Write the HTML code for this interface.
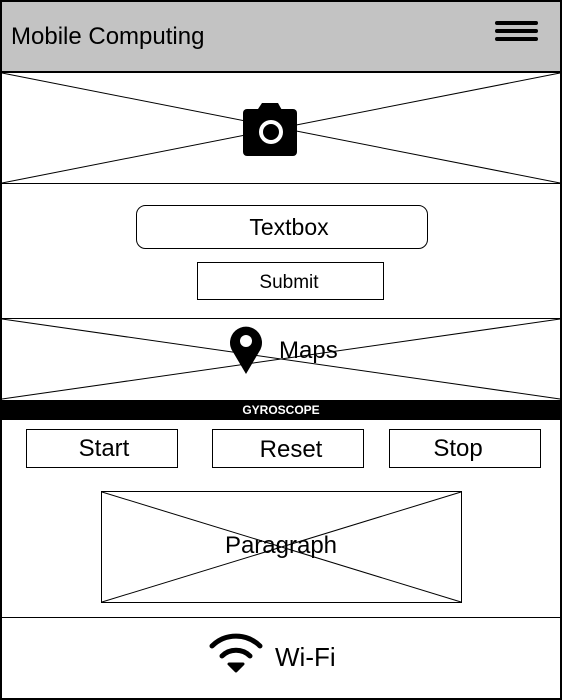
<!DOCTYPE html>
<html><head><meta charset="utf-8"><style>
html,body{margin:0;padding:0;background:#fff}
svg{display:block}
text{font-family:"Liberation Sans",sans-serif}
</style></head><body>
<svg width="562" height="700" viewBox="0 0 562 700" xmlns="http://www.w3.org/2000/svg">
<rect x="0" y="0" width="562" height="71" fill="#c3c3c3"/>
<text x="11" y="44" font-size="24" fill="#000">Mobile Computing</text>
<g stroke="#000" stroke-width="4" stroke-linecap="round">
<line x1="497" y1="23" x2="536" y2="23"/><line x1="497" y1="31" x2="536" y2="31"/><line x1="497" y1="39" x2="536" y2="39"/>
</g>
<line x1="0" y1="72" x2="562" y2="72" stroke="#000" stroke-width="2"/>
<g stroke="#000" stroke-width="1">
<line x1="2" y1="73" x2="560" y2="183"/><line x1="560" y1="73" x2="2" y2="183"/>
<line x1="0" y1="183.5" x2="562" y2="183.5"/>
<line x1="0" y1="318.5" x2="562" y2="318.5"/>
<line x1="2" y1="319" x2="560" y2="399"/><line x1="560" y1="319" x2="2" y2="399"/>
<line x1="0" y1="617.5" x2="562" y2="617.5"/>
</g>
<!-- camera -->
<rect x="243" y="109" width="54" height="47" rx="4" fill="#000"/>
<path d="M256 112 L262 103 L278 103 L283 112 Z" fill="#000"/>
<circle cx="271" cy="132" r="12" fill="#fff"/>
<circle cx="271" cy="132" r="8" fill="#000"/>
<!-- textbox -->
<rect x="136.5" y="205.5" width="291" height="43" rx="9" fill="#fff" stroke="#000"/>
<text x="289" y="235" font-size="23" text-anchor="middle">Textbox</text>
<rect x="197.5" y="262.5" width="186" height="37" fill="#fff" stroke="#000"/>
<text x="289" y="288" font-size="19" text-anchor="middle">Submit</text>
<!-- map pin -->
<path d="M246 374 L233 352 A16 16 0 1 1 259 352 Z" fill="#000"/>
<circle cx="246" cy="341" r="6" fill="#fff"/>
<text x="279" y="358" font-size="24">Maps</text>
<rect x="0" y="400" width="562" height="20" fill="#000"/>
<text x="281" y="414" font-size="12" font-weight="bold" fill="#fff" text-anchor="middle">GYROSCOPE</text>
<g fill="#fff" stroke="#000">
<rect x="26.5" y="429.5" width="151" height="38"/>
<rect x="212.5" y="429.5" width="151" height="38"/>
<rect x="389.5" y="429.5" width="151" height="38"/>
<rect x="101.5" y="491.5" width="360" height="111"/>
</g>
<g font-size="24" text-anchor="middle">
<text x="104" y="456">Start</text><text x="291" y="457">Reset</text><text x="458" y="456">Stop</text>
</g>
<line x1="102" y1="492" x2="461" y2="602" stroke="#000"/><line x1="461" y1="492" x2="102" y2="602" stroke="#000"/>
<text x="281" y="553" font-size="24" text-anchor="middle">Paragraph</text>
<!-- wifi -->
<g fill="none" stroke="#000" stroke-width="5" stroke-linecap="round">
<path d="M212 646 A34 34 0 0 1 260 646"/>
<path d="M222 656 A20 20 0 0 1 250 656"/>
</g>
<path d="M229 664 L243 664 L236 671 Z" fill="#000" stroke="#000" stroke-width="3" stroke-linejoin="round"/>
<text x="275" y="666" font-size="26">Wi-Fi</text>
<rect x="1" y="1" width="560" height="698" fill="none" stroke="#000" stroke-width="2"/>
</svg>
</body></html>
